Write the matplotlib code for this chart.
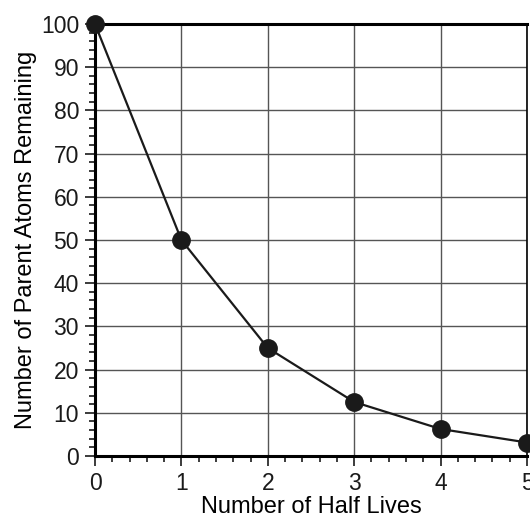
import matplotlib.pyplot as plt
from matplotlib.ticker import MultipleLocator

plt.rcParams['font.family'] = ['Liberation Sans', 'DejaVu Sans']

half_lives = [0, 1, 2, 3, 4, 5]
atoms = [100, 50, 25, 12.5, 6.25, 3.125]

fig = plt.figure(figsize=(5.30, 5.19), dpi=100)
ax = fig.add_axes([95 / 530, 63 / 519, 432 / 530, 432 / 519])

ax.plot(half_lives, atoms, color='#1a1a1a', lw=1.6, marker='o', ms=12.5,
        clip_on=False, zorder=3)

ax.set_xlim(0, 5)
ax.set_ylim(0, 100)
ax.xaxis.set_major_locator(MultipleLocator(1))
ax.xaxis.set_minor_locator(MultipleLocator(0.2))
ax.yaxis.set_major_locator(MultipleLocator(10))
ax.yaxis.set_minor_locator(MultipleLocator(2))
ax.grid(True, which='major', color='#555555', lw=1.0)

for s in ['left', 'bottom', 'top']:
    ax.spines[s].set_linewidth(2.2)
ax.spines['right'].set_linewidth(1.2)
ax.tick_params(which='major', length=7, width=1.2, labelsize=16.5,
               colors='#1a1a1a', pad=4.5)
ax.tick_params(which='minor', length=4.5, width=1.2, colors='#1a1a1a')

ax.set_xlabel('Number of Half Lives', fontsize=17, labelpad=1)
ax.set_ylabel('Number of Parent Atoms Remaining', fontsize=17, labelpad=3)

fig.savefig('out.png', dpi=100)
